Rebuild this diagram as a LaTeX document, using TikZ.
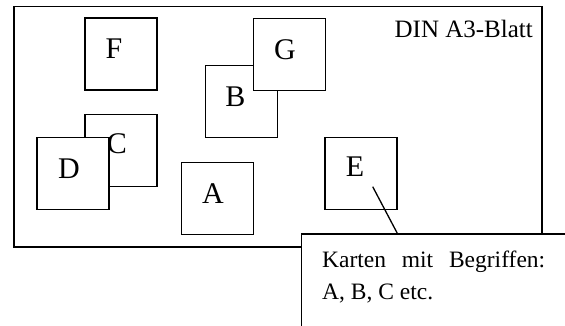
\documentclass[tikz,border=0pt]{standalone}
\usepackage{fontspec}
\setmainfont{Liberation Serif}
\begin{document}
\begin{tikzpicture}[x=1pt,y=-1pt,
  card/.style={draw,line width=1.4pt,fill=white,minimum size=72pt,inner sep=0pt},
  letter/.style={inner sep=0pt,font=\fontsize{30}{36}\selectfont},
  sheet/.style={draw,line width=1.5pt},
  note/.style={draw,line width=1.4pt,fill=white,anchor=north west,inner sep=0pt,minimum width=280pt,minimum height=110pt},
  notetext/.style={anchor=base west,inner sep=0pt,font=\fontsize{23.5}{28}\selectfont}]
\useasboundingbox (0,0) rectangle (565,326);
\clip (0,0) rectangle (565,326);
% sheet
\node[sheet,minimum width=528pt,minimum height=240pt,inner sep=0pt,anchor=north west] (sheet) at (13,6) {};
\node[anchor=base east,inner sep=0pt,font=\fontsize{25}{30}\selectfont] (title) at (533,37.3) {DIN A3-Blatt};
% cards
\node[card] (F) at (121,54) {};
\node[letter] (Ft) at (114,48.5) {F};
\node[card] (C) at (121,150.5) {};
\node[letter] (Ct) at (117,144) {C};
\node[card] (D) at (73,173.5) {};
\node[letter] (Dt) at (69,168.3) {D};
\node[card] (A) at (217.3,198.5) {};
\node[letter] (At) at (213,194) {A};
\node[card] (B) at (241.3,101.7) {};
\node[letter] (Bt) at (235.5,96.3) {B};
\node[card] (G) at (289.3,54.3) {};
\node[letter] (Gt) at (285,50) {G};
\node[card] (E) at (361,173.3) {};
\node[letter] (Et) at (355,166.7) {E};
% connector
\coordinate (tipE) at (372.7,186.7);
\coordinate (tipN) at (397.3,233.3);
\draw[line width=1.3pt] (tipE) -- (tipN);
% note
\node[note] (note) at (301,233.3) {};
\node[notetext] (l1) at (322,267.5) {\makebox[223pt][s]{Karten mit Begriffen:}};
\node[notetext] (l2) at (322,299.5) {A, B, C etc.};
\end{tikzpicture}
\end{document}
